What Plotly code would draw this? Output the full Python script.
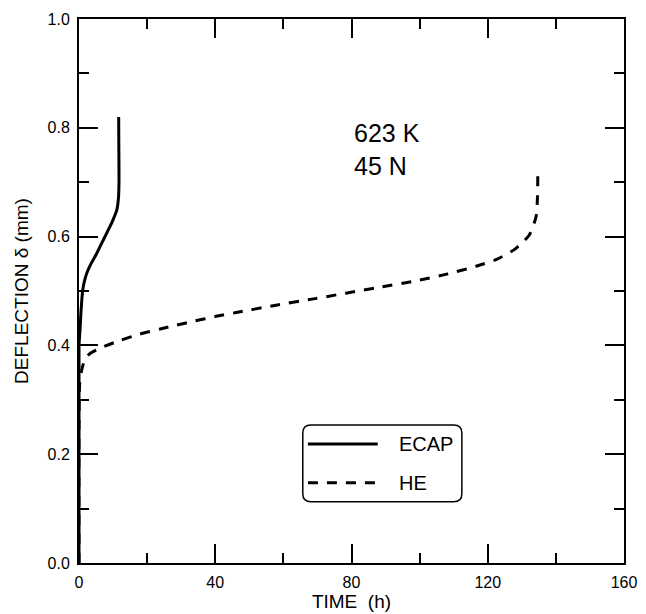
import plotly.graph_objects as go

# ---- data ----
ecap_time = [0.0, 0.0, 0.15, 0.3, 0.5, 0.8, 1.1, 1.6, 2.3, 3.5, 5.2, 6.6, 8.1, 9.8, 11.1, 11.6, 11.75, 11.7, 11.65]
ecap_defl = [0.0, 0.40, 0.415, 0.428, 0.453, 0.482, 0.502, 0.518, 0.533, 0.550, 0.569, 0.587, 0.606, 0.628, 0.649, 0.672, 0.704, 0.76, 0.820]

he_time = [0.0, 0.2, 0.8, 1.5, 3.0, 6.2, 12.0, 17.9, 23.8, 28.7, 34.1, 39.9, 45.8, 57.0, 69.3, 87.4, 99.1, 108.0, 116.8, 122.6, 128.0, 132.2, 134.2, 134.6, 134.7]
he_defl = [0.0, 0.33, 0.355, 0.370, 0.384, 0.395, 0.409, 0.421, 0.430, 0.4375, 0.445, 0.453, 0.460, 0.473, 0.486, 0.506, 0.519, 0.531, 0.546, 0.558, 0.577, 0.603, 0.637, 0.673, 0.720]

series_names = ["ECAP", "HE"]
x_ticks = [0, 40, 80, 120, 160]
y_ticks = [0.0, 0.2, 0.4, 0.6, 0.8, 1.0]
condition_text = ["623 K", "45 N"]

FONT = "Liberation Sans, Arial, Helvetica, sans-serif"

fig = go.Figure()
fig.add_trace(go.Scatter(x=ecap_time, y=ecap_defl, mode="lines", name=series_names[0],
                         line=dict(color="black", width=3, shape="spline", smoothing=0.6),
                         showlegend=False))
fig.add_trace(go.Scatter(x=he_time, y=he_defl, mode="lines", name=series_names[1],
                         line=dict(color="black", width=3, dash="10px,9px", shape="spline", smoothing=0.6),
                         showlegend=False))

# condition annotation
fig.add_annotation(x=80, y=0.76, xref="x", yref="y", xanchor="left", yanchor="middle",
                   text="<br>".join(condition_text), showarrow=False, align="left",
                   font=dict(family=FONT, size=25, color="black"))

# custom legend box (rounded rectangle)
x0, x1, y0, y1 = 65.7, 112.4, 0.1127, 0.2537
rx, ry = 2.4, 0.0147
path = (f"M{x0+rx},{y0} L{x1-rx},{y0} Q{x1},{y0} {x1},{y0+ry} L{x1},{y1-ry} Q{x1},{y1} {x1-rx},{y1} "
        f"L{x0+rx},{y1} Q{x0},{y1} {x0},{y1-ry} L{x0},{y0+ry} Q{x0},{y0} {x0+rx},{y0} Z")
fig.add_shape(type="path", path=path, xref="x", yref="y", line=dict(color="black", width=1.5),
              fillcolor="white", layer="above")
fig.add_shape(type="line", x0=67.2, x1=87.7, y0=0.2188, y1=0.2188, xref="x", yref="y",
              line=dict(color="black", width=3), layer="above")
fig.add_shape(type="line", x0=67.2, x1=87.7, y0=0.1476, y1=0.1476, xref="x", yref="y",
              line=dict(color="black", width=3, dash="10px,9px"), layer="above")
for name, yy in zip(series_names, [0.2188, 0.1476]):
    fig.add_annotation(x=93.5, y=yy, xref="x", yref="y", xanchor="left", yanchor="middle",
                       text=name, showarrow=False, font=dict(family=FONT, size=20, color="black"))

axis_common = dict(showgrid=False, zeroline=False, showline=True, linecolor="black", linewidth=2,
                   mirror="ticks", ticks="inside", ticklen=19, tickwidth=1.5, tickcolor="black",
                   tickfont=dict(family=FONT, size=16, color="black"), automargin=False)

fig.update_xaxes(range=[0, 160], tickvals=x_ticks, ticktext=[str(v) for v in x_ticks],
                 minor=dict(dtick=20, ticks="inside", ticklen=10, tickwidth=1.5, tickcolor="black"),
                 title=dict(text="TIME  (h)", font=dict(family=FONT, size=19, color="black"), standoff=2),
                 ticklabelstandoff=4, **axis_common)
fig.update_yaxes(range=[0, 1.0], tickvals=y_ticks, ticktext=[f"{v:.1f}" for v in y_ticks],
                 minor=dict(dtick=0.1, ticks="inside", ticklen=10, tickwidth=1.5, tickcolor="black"),
                 title=dict(text="DEFLECTION δ (mm)", font=dict(family=FONT, size=19, color="black"), standoff=14),
                 ticklabelstandoff=4, **axis_common)

fig.update_layout(width=646, height=614, margin=dict(l=79, r=22, t=19, b=51),
                  plot_bgcolor="white", paper_bgcolor="white", showlegend=False,
                  font=dict(family=FONT, color="black"))

fig.write_html("out.html", config={"displayModeBar": False},
               post_script="document.body.style.margin='0';document.body.style.overflow='hidden';")
